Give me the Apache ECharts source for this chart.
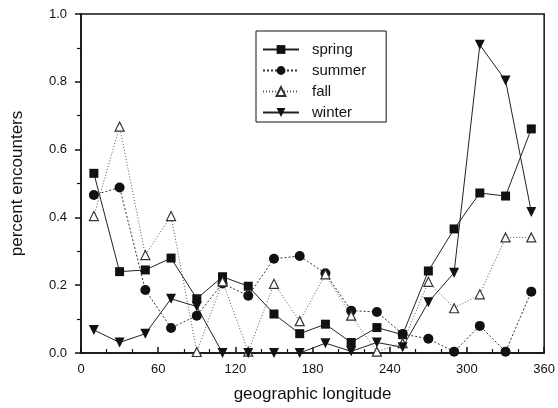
<!DOCTYPE html>
<html>
<head>
<meta charset="utf-8">
<script src="https://cdn.jsdelivr.net/npm/echarts@6/dist/echarts.min.js"></script>
<style>
  html, body { margin: 0; padding: 0; background: #fff; }
  #chart { width: 558px; height: 408px; }
</style>
</head>
<body>
<div id="chart"></div>
<script>
// longitude bin centres
const longitude = [10, 30, 50, 70, 90, 110, 130, 150, 170, 190, 210, 230, 250, 270, 290, 310, 330, 350];

const spring = [0.53, 0.24, 0.245, 0.28, 0.16, 0.225, 0.197, 0.115, 0.057, 0.085, 0.031, 0.075, 0.054, 0.242, 0.366, 0.472, 0.463, 0.661];
const summer = [0.466, 0.488, 0.186, 0.074, 0.11, 0.205, 0.169, 0.278, 0.286, 0.235, 0.125, 0.121, 0.056, 0.042, 0.004, 0.08, 0.004, 0.181];
const fall   = [0.404, 0.668, 0.289, 0.404, 0.003, 0.211, 0.004, 0.204, 0.094, 0.232, 0.11, 0.004, 0.029, 0.21, 0.132, 0.173, 0.341, 0.341];
const winter = [0.068, 0.031, 0.057, 0.16, 0.137, 0, 0, 0, 0, 0.029, 0.005, 0.031, 0.017, 0.15, 0.237, 0.909, 0.804, 0.416];

function pairs(vals) {
  return longitude.map((x, i) => [x, vals[i]]);
}

const font = 'Liberation Sans';
const chart = echarts.init(document.getElementById('chart'));

const option = {
  backgroundColor: '#fff',
  animation: false,
  textStyle: { fontFamily: font, color: '#111' },
  grid: {
    left: 81, right: 12, top: 14, bottom: 55,
    show: true, borderColor: '#111', borderWidth: 1.5
  },
  legend: {
    left: 256, top: 31,
    orient: 'vertical',
    itemWidth: 36, itemHeight: 11, itemGap: 6,
    padding: [11, 20, 2, 6],
    borderColor: '#111', borderWidth: 1,
    textStyle: { fontFamily: font, fontSize: 15, color: '#111', padding: [0, 0, 0, 8] },
    data: ['spring', 'summer', 'fall', 'winter']
  },
  xAxis: {
    type: 'value', min: 0, max: 360, interval: 60,
    name: 'geographic longitude', nameLocation: 'middle', nameGap: 33,
    nameTextStyle: { fontSize: 17, color: '#111' },
    axisLine: { lineStyle: { color: '#111', width: 1.5 } },
    axisTick: { inside: true, length: 6, lineStyle: { color: '#111', width: 1.5 } },
    minorTick: { show: true, splitNumber: 3, length: 4, lineStyle: { color: '#111', width: 1.2 } },
    axisLabel: { fontSize: 13, color: '#111', margin: 10 },
    splitLine: { show: false }
  },
  yAxis: {
    type: 'value', min: 0, max: 1, interval: 0.2,
    name: 'percent encounters', nameLocation: 'middle', nameGap: 55,
    nameTextStyle: { fontSize: 17, color: '#111' },
    axisLine: { show: true, lineStyle: { color: '#111', width: 1.5 } },
    axisTick: { show: true, inside: false, length: 6, lineStyle: { color: '#111', width: 1.5 } },
    minorTick: { show: true, splitNumber: 2, length: 4, lineStyle: { color: '#111', width: 1.2 } },
    axisLabel: { fontSize: 13, color: '#111', margin: 14, formatter: v => v.toFixed(1) },
    splitLine: { show: false }
  },
  series: [
    {
      name: 'spring', type: 'line', data: pairs(spring),
      symbol: 'rect', symbolSize: 9,
      itemStyle: { color: '#111' },
      lineStyle: { color: '#222', width: 1, type: 'solid' }
    },
    {
      name: 'summer', type: 'line', data: pairs(summer),
      symbol: 'circle', symbolSize: 10,
      itemStyle: { color: '#111' },
      lineStyle: { color: '#333', width: 1, type: [2, 2] }
    },
    {
      name: 'fall', type: 'line', data: pairs(fall),
      symbol: 'triangle', symbolSize: 9,
      itemStyle: { color: '#fff', borderColor: '#333', borderWidth: 1.2 },
      lineStyle: { color: '#555', width: 1, type: [1, 2] }
    },
    {
      name: 'winter', type: 'line', data: pairs(winter),
      symbol: 'triangle', symbolRotate: 180, symbolSize: 10,
      itemStyle: { color: '#111' },
      lineStyle: { color: '#222', width: 1, type: 'solid' }
    }
  ]
};

chart.setOption(option);
</script>
</body>
</html>
